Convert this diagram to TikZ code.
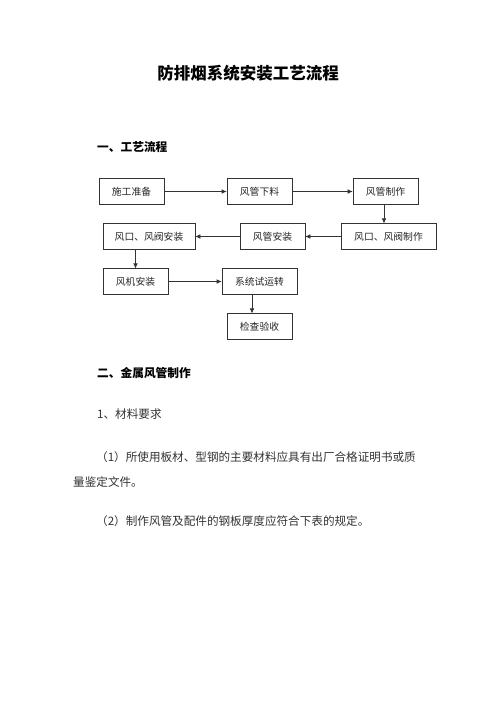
\documentclass[tikz,border=0pt]{standalone}
\usepackage{fontspec}
\newfontfamily\cjk{Noto Sans CJK SC}
\usetikzlibrary{arrows.meta,calc}
\begin{document}
\begin{tikzpicture}[x=1pt,y=-1pt,
  box/.style={draw=black!80,line width=0.6pt,rectangle,inner sep=0pt,minimum height=25.5pt,font=\cjk\fontsize{9.8}{10}\selectfont,text=black!85},
  arr/.style={draw=black!80,line width=0.6pt,-{Latex[length=5pt,width=4.5pt]}},
  body/.style={anchor=west,inner sep=0pt,font=\cjk\fontsize{11.6}{14}\selectfont,text=black!80},
  head/.style={anchor=west,inner sep=0pt,font=\cjk\bfseries\fontsize{11.7}{14}\selectfont,text=black}]
\useasboundingbox (0,0) rectangle (496,702);
\fill[white] (0,0) rectangle (496,702);
\node[inner sep=0pt,font=\cjk\bfseries\fontsize{16.5}{18}\selectfont] (title) at (248,73.5) {防排烟系统安装工艺流程};
\node[head] (h1) at (97,147) {一、工艺流程};
% flow boxes
\node[box,minimum width=65pt] (A) at (131.5,191.5) {施工准备};
\node[box,minimum width=65pt] (B) at (259.5,191.5) {风管下料};
\node[box,minimum width=65pt] (C) at (385.5,191.5) {风管制作};
\node[box,minimum width=95pt] (D) at (388.5,236.5) {风口、风阀制作};
\node[box,minimum width=65pt] (E) at (272.5,236.5) {风管安装};
\node[box,minimum width=92pt] (F) at (149,236.5) {风口、风阀安装};
\node[box,minimum width=65pt] (G) at (135.5,281.5) {风机安装};
\node[box,minimum width=75pt] (H) at (259.5,281.5) {系统试运转};
\node[box,minimum width=65pt] (I) at (259.5,326.5) {检查验收};
\draw[arr] (A) -- (B);
\draw[arr] (B) -- (C);
\draw[arr] ([xshift=-1.5pt]C.south) -- ([xshift=-1.5pt]C.south |- D.north);
\draw[arr] (D) -- (E);
\draw[arr] (E) -- (F);
\draw[arr] (G.north |- F.south) -- (G.north);
\draw[arr] (G) -- (H);
\draw[arr] ([xshift=-7.5pt]H.south) -- ([xshift=-7.5pt]I.north);
% text
\node[head] (h2) at (97,373) {二、金属风管制作};
\node[body] (t1) at (97,414) {1、材料要求};
\node[body] (t2) at (96,457) {（1）所使用板材、型钢的主要材料应具有出厂合格证明书或质};
\node[body] (t3) at (73,482) {量鉴定文件。};
\node[body] (t4) at (96,521) {（2）制作风管及配件的钢板厚度应符合下表的规定。};
\end{tikzpicture}
\end{document}
